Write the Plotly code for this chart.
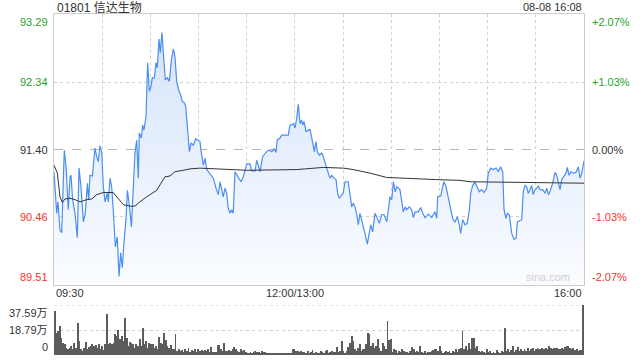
import plotly.graph_objects as go

# ---- data ----
title_text = "01801 信达生物"
stamp_text = "08-08 16:08"
prev_close = 91.40
price_ticks = [93.29, 92.34, 91.40, 90.46, 89.51]
pct_labels = ["+2.07%", "+1.03%", "0.00%", "-1.03%", "-2.07%"]
time_labels = ["09:30", "12:00/13:00", "16:00"]
time_label_minutes = [0, 150, 330]
vol_ticks = [37.59, 18.79, 0]
vol_tick_labels = ["37.59万", "18.79万", "0"]

price_min = [0, 1.7, 2.5, 3.7, 4.8, 5.4, 6.4, 7.5, 8.9, 10.0, 10.6, 11.6, 13.1, 14.5, 15.6, 16.8, 18.3, 19.5,
             20.8, 21.6, 22.4, 23.9, 25.5, 26.6, 27.6, 28.6, 29.7, 30.7, 31.8, 33.2, 33.8, 34.9, 35.9, 36.9,
             38.2, 39.4, 40.5, 41.5, 42.5, 43.6, 44.8, 45.7, 46.9, 48.2, 49.4, 50.4, 51.5, 52.5, 53.1, 54.4,
             55.2, 56.0, 57.3, 58.3, 59.4, 60.4, 61.2, 62.5, 63.5, 64.3, 65.4, 66.2, 67.2, 68.3, 69.3, 70.6,
             71.8, 73.1, 74.3, 75.3, 76.4, 77.6, 78.9, 79.9, 81.2, 82.0, 83.0, 84.3, 85.3, 86.8, 88.2, 89.9,
             90.9, 91.5, 93.0, 94.0, 95.1, 97.1, 99.2, 100.9, 102.3, 103.4, 104.4, 105.4, 106.5, 107.5, 108.5,
             109.6, 110.6, 111.6, 112.7, 114.8, 116.4, 117.9, 118.9, 120.0, 122.0, 123.1, 125.2, 126.2, 127.2,
             128.3, 129.9, 131.4, 132.8, 134.1, 135.6, 137.0, 138.2, 139.0, 140.7, 141.8, 143.8, 145.9, 146.9,
             149.0, 150.1, 151.1, 152.1, 153.2, 154.2, 154.9, 155.7, 156.9, 158.3, 159.4, 160.5, 162.1, 163.1,
             163.9, 165.2, 166.7, 167.7, 168.7, 169.8, 170.8, 171.9, 172.9, 174.3, 175.6, 176.6, 177.6, 179.1,
             180.1, 181.2, 183.2, 184.3, 185.4, 186.4, 187.4, 188.5, 189.5, 190.5, 191.6, 192.6, 193.6, 195.1,
             196.1, 197.2, 198.4, 199.9, 200.9, 202.6, 204.0, 205.5, 207.2, 208.2, 209.2, 210.3, 211.3, 212.5,
             213.4, 215.4, 216.5, 217.5, 218.6, 219.6, 221.2, 222.7, 223.7, 224.8, 226.8, 228.3, 229.6, 231.0,
             233.1, 235.2, 237.2, 238.3, 238.9, 240.8, 242.0, 242.8, 244.1, 245.5, 247.0, 248.3, 249.7, 251.1,
             252.4, 253.2, 254.5, 255.9, 257.3, 258.6, 259.5, 260.7, 262.1, 263.6, 264.8, 266.3, 267.7, 269.4,
             270.4, 271.9, 273.5, 275.2, 276.7, 278.1, 279.4, 280.2, 281.4, 282.3, 283.5, 285.0, 286.4, 287.7,
             288.5, 290.2, 291.2, 292.2, 293.3, 294.3, 295.3, 296.4, 297.4, 298.4, 299.5, 300.6, 301.6, 302.6,
             304.3, 305.7, 306.8, 307.8, 308.8, 310.5, 312.0, 313.0, 314.0, 315.1, 316.1, 317.1, 318.8, 319.6,
             320.7, 321.9, 323.4, 325.0, 326.5, 327.5, 328.6, 330.0]
price_val = [91.09, 90.51, 90.67, 90.28, 90.24, 90.79, 91.39, 91.16, 90.56, 91.02, 91.04, 90.70, 90.51, 90.17,
             91.14, 90.88, 90.39, 90.51, 90.93, 90.70, 91.04, 91.03, 91.42, 91.30, 91.23, 91.45, 91.37, 90.88,
             90.67, 90.79, 90.67, 91.00, 90.88, 90.56, 90.04, 90.18, 89.63, 89.96, 89.75, 90.11, 90.42, 90.83,
             90.63, 90.32, 90.88, 91.35, 91.53, 91.00, 91.63, 91.56, 91.74, 91.67, 91.86, 92.61, 92.21, 92.28,
             92.40, 92.40, 92.61, 92.54, 92.94, 92.75, 93.03, 92.70, 92.37, 92.40, 92.35, 92.65, 92.80, 92.70,
             92.35, 92.23, 92.16, 92.07, 92.05, 92.00, 91.72, 91.37, 91.49, 91.46, 91.55, 91.53, 91.51, 91.39,
             91.18, 91.28, 91.12, 91.06, 91.00, 90.86, 90.77, 90.95, 90.84, 90.74, 90.86, 90.79, 90.58, 90.51,
             90.56, 90.51, 91.09, 91.02, 90.95, 91.02, 91.09, 91.20, 91.20, 91.10, 91.10, 91.25, 91.18, 91.09,
             91.30, 91.35, 91.38, 91.39, 91.37, 91.41, 91.36, 91.53, 91.56, 91.60, 91.60, 91.60, 91.74, 91.76,
             91.70, 91.83, 92.03, 91.76, 91.81, 91.74, 91.79, 91.65, 91.67, 91.68, 91.56, 91.37, 91.51, 91.37,
             91.32, 91.35, 91.30, 91.21, 91.14, 91.07, 91.00, 91.04, 91.00, 90.98, 90.79, 90.72, 90.77, 90.79,
             90.95, 90.95, 90.77, 90.60, 90.65, 90.60, 90.49, 90.35, 90.51, 90.42, 90.32, 90.23, 90.08, 90.23,
             90.35, 90.25, 90.51, 90.46, 90.37, 90.49, 90.49, 90.39, 90.56, 90.74, 90.70, 90.95, 90.81, 90.88,
             90.84, 90.70, 90.53, 90.60, 90.56, 90.60, 90.56, 90.45, 90.53, 90.53, 90.59, 90.51, 90.45, 90.50,
             90.45, 90.53, 90.44, 90.74, 90.75, 90.88, 90.95, 90.88, 90.72, 90.56, 90.43, 90.39, 90.46, 90.35,
             90.23, 90.42, 90.35, 90.37, 90.56, 90.79, 90.90, 90.94, 90.86, 90.81, 90.84, 90.80, 90.86, 91.07,
             91.14, 91.12, 91.14, 91.09, 91.16, 91.09, 90.56, 90.44, 90.51, 90.49, 90.23, 90.15, 90.16, 90.39,
             90.41, 90.42, 90.81, 90.90, 90.88, 90.79, 90.84, 90.90, 90.77, 90.84, 90.86, 90.89, 90.84, 90.84,
             90.79, 90.86, 90.77, 90.81, 90.93, 91.08, 91.04, 90.95, 90.84, 90.98, 91.02, 91.07, 91.15, 91.04,
             91.09, 91.07, 91.08, 91.16, 91.00, 91.07, 91.24]

avg_min = [0, 2.1, 3.7, 5.2, 6.8, 10.0, 13.1, 16.2, 20.3, 23.5, 26.6, 30.7, 36.9, 40.1, 43.2, 47.3, 50.4, 53.5,
           57.7, 63.9, 69.1, 72.2, 75.3, 80.5, 84.7, 90.9, 120.0, 151.1, 167.7, 180.1, 186.4, 196.8, 207.2,
           238.3, 252.8, 259.0, 290.2, 330.0]
avg_val = [91.18, 91.07, 90.74, 90.66, 90.71, 90.72, 90.70, 90.67, 90.70, 90.71, 90.77, 90.80, 90.80, 90.72,
           90.63, 90.61, 90.61, 90.67, 90.74, 90.83, 91.02, 91.03, 91.09, 91.11, 91.13, 91.14, 91.11, 91.12,
           91.15, 91.14, 91.12, 91.07, 91.01, 90.98, 90.97, 90.95, 90.94, 90.93]

volume_wan = [33, 16.75, 18, 21.75, 13, 9.25, 8, 5.5, 4.25, 5.5, 6.75, 4.25, 9.25, 5.5, 24, 10.5, 4.25, 3, 5.5,
              9.75, 4.25, 6, 6.75, 8, 6.75, 7.5, 5.5, 8, 4.25, 6.75, 3.5, 8, 30.5, 8, 9.25, 8, 9.25, 15.5, 14.25,
              18.5, 11.75, 14.25, 10.5, 28, 13, 6.75, 10, 9.25, 8, 5.5, 8, 6.75, 11.75, 6.75, 20.5, 8, 10.5, 5.5,
              9.25, 8, 8.5, 5.5, 6.75, 4.25, 13.5, 9.25, 8, 16.75, 11, 6.75, 5.5, 7.5, 4.25, 4.25, 16, 3, 4.25, 3,
              3.5, 2.5, 4.25, 3, 5.5, 2.5, 3.5, 3, 4.75, 2.5, 4.25, 3, 3.5, 3, 3.5, 3, 4.25, 2.5, 6, 2.5, 2, 2.5,
              7.5, 7.5, 4.25, 3, 9.25, 3, 3, 3.5, 3, 4.25, 6, 4.25, 3, 2.5, 4.25, 3, 3.5, 2.5, 1.25, 1.75, 2.5,
              1.75, 2.5, 3, 2, 2.5, 1.75, 3, 2.5, 2.5, 1, 1.5, 1, 1.25, 1, 1, 1, 1, 1.25, 1, 1, 1.25, 1, 1.75, 1,
              1.75, 4.75, 4.25, 3, 3, 2.25, 3, 2.25, 2.5, 1.75, 3, 1.75, 2.5, 3.5, 1.75, 2.5,
              1.75, 1, 3, 2.5, 1, 3, 3.5, 1.75, 2.5, 3, 2, 2.5, 6, 2.5, 3, 10.5, 3, 1.75, 3, 6, 9.25, 14.25, 10.5,
              4.25, 3, 5.5, 8, 3, 4.25, 4.25, 8, 16.75, 15.5, 6.75, 9.25, 5.5, 6.75, 11.75, 5.5, 3, 9.25, 6.75,
              4.25, 25.5, 11, 11.75, 2.5, 4.25, 3.5, 1.75, 3, 2.5, 4.25, 3, 2.5, 2.5, 1.75, 3, 6, 4.25, 2.5, 3,
              2.5, 6.75, 2.5, 1, 3, 1.75, 2.5, 2.5, 3, 3.5, 4.25, 4.25, 3, 6.75, 3, 1.75, 2.5, 3, 2.5, 3, 1.75,
              3, 2.5, 4.75, 2.5, 4.25, 5.5, 18, 4.25, 6.75, 3.5, 9.25, 4.25, 13, 12.5, 5.5, 6.75, 3, 2.5, 3, 2.5,
              1.75, 4.25, 2.5, 3, 1.75, 2.5, 1.75, 3.5, 2.5, 1.75, 3, 2.5, 20, 3, 4.25, 2.5, 3.5, 6.75, 2.5, 3.5,
              6, 3, 4.25, 3, 4.25, 3, 5.5, 3, 4.25, 5.5, 3, 4.25, 5.5, 4.25, 4.25, 5.5, 4.25, 5.5, 4.25, 6.75,
              5.5, 4.25, 5.5, 5, 5.5, 4.75, 4.25, 5.5, 4.25, 6, 6.75, 6.75, 5.5, 4.25, 5.5, 3.5, 4.25, 3, 3.5,
              3.5, 37.59]

# ---- styles ----
GREEN = "#1fa51f"
RED = "#f2352b"
DARK = "#333333"
FONT = "Liberation Sans, Arial, Noto Sans CJK SC, sans-serif"
label_colors = [GREEN, GREEN, DARK, RED, RED]

fig = go.Figure()

fig.add_trace(go.Scatter(
    x=price_min, y=price_val, mode="lines",
    line=dict(color="#4b8ef2", width=1.2),
    fill="tozeroy",
    fillgradient=dict(type="vertical",
                      colorscale=[[0, "#fafcff"], [1, "#d3e2f9"]],
                      start=price_ticks[-1], stop=price_ticks[0]),
    xaxis="x", yaxis="y", hoverinfo="skip", showlegend=False))

fig.add_trace(go.Scatter(
    x=avg_min, y=avg_val, mode="lines",
    line=dict(color="#333333", width=1),
    xaxis="x", yaxis="y", hoverinfo="skip", showlegend=False))

fig.add_trace(go.Bar(
    x=list(range(len(volume_wan))), y=volume_wan,
    marker=dict(color="#5c5c5c", line=dict(width=0)), width=0.55,
    xaxis="x2", yaxis="y2", hoverinfo="skip", showlegend=False))

H_PLOT = 341.0
main_bottom = (355 - 285) / H_PLOT
vol_top = (355 - 305) / H_PLOT

fig.update_layout(
    width=640, height=360,
    margin=dict(l=54, r=56, t=14, b=5),
    paper_bgcolor="white", plot_bgcolor="white",
    font=dict(family=FONT, size=11, color=DARK),
    bargap=0,
    xaxis=dict(domain=[0, 1], range=[0, 330], tick0=0, dtick=30, showgrid=True,
               gridcolor="#d2d2d2", griddash="dot", gridwidth=1, showticklabels=False,
               ticks="", showline=True, linecolor="#cccccc", mirror=True, zeroline=False),
    yaxis=dict(domain=[main_bottom, 1], range=[price_ticks[-1], price_ticks[0]],
               tickvals=[price_ticks[1], price_ticks[3]], showgrid=True,
               gridcolor="#d2d2d2", griddash="dot", gridwidth=1, showticklabels=False,
               ticks="", showline=True, linecolor="#cccccc", mirror=True, zeroline=False),
    xaxis2=dict(domain=[0, 1], anchor="y2", range=[-0.5, len(volume_wan) - 0.5],
                showgrid=False, showticklabels=False, ticks="", showline=False, zeroline=False),
    yaxis2=dict(domain=[0, vol_top], anchor="x2", range=[0, vol_ticks[0]],
                tickvals=[vol_ticks[1]], showgrid=True, gridcolor="#cfcfcf",
                griddash="dot", showticklabels=False, ticks="", showline=False, zeroline=False),
)

shapes = [
    dict(type="line", xref="x domain", yref="y", x0=0, x1=1, y0=prev_close, y1=prev_close,
         line=dict(color="#b5b5b5", width=1, dash="dash"), layer="below"),
    dict(type="line", xref="x2 domain", yref="y2", x0=0, x1=1, y0=vol_ticks[0], y1=vol_ticks[0],
         line=dict(color="#cfcfcf", width=1, dash="dot"), layer="below"),
]
fig.update_layout(shapes=shapes)

ann = []
ann.append(dict(text=title_text, xref="paper", yref="paper", x=0.002, y=(355 - 7.5) / H_PLOT,
                xanchor="left", yanchor="middle", showarrow=False, font=dict(size=12, color=DARK)))
ann.append(dict(text=stamp_text, xref="paper", yref="paper", x=1, y=(355 - 7) / H_PLOT,
                xanchor="right", yanchor="middle", showarrow=False, font=dict(size=11, color=DARK)))

for i, (v, pl) in enumerate(zip(price_ticks, pct_labels)):
    ya = "top" if i == 0 else ("bottom" if i == len(price_ticks) - 1 else "middle")
    ann.append(dict(text=f"{v:.2f}", xref="paper", yref="y", x=-0.008, y=v, xanchor="right",
                    yanchor=ya, showarrow=False, font=dict(size=11, color=label_colors[i])))
    ann.append(dict(text=pl, xref="paper", yref="y", x=1.011, y=v, xanchor="left",
                    yanchor=ya, showarrow=False, font=dict(size=11, color=label_colors[i])))

anchors = ["left", "center", "right"]
for t, m, a in zip(time_labels, time_label_minutes, anchors):
    ann.append(dict(text=t, xref="x", yref="paper", x=m, y=(355 - 293) / H_PLOT, xanchor=a,
                    yanchor="middle", showarrow=False, font=dict(size=11, color=DARK)))

for i, (v, t) in enumerate(zip(vol_ticks, vol_tick_labels)):
    ya = "top" if i == 0 else ("bottom" if i == len(vol_ticks) - 1 else "middle")
    ann.append(dict(text=t, xref="paper", yref="y2", x=-0.008, y=v, xanchor="right",
                    yanchor=ya, showarrow=False, font=dict(size=11, color=DARK)))

ann.append(dict(text="sina.com", xref="paper", yref="y", x=0.978, y=price_ticks[-1], xanchor="right",
                yanchor="bottom", showarrow=False, font=dict(size=11, color="#cfcfcf")))

fig.update_layout(annotations=ann)

fig.write_html("out.html")
